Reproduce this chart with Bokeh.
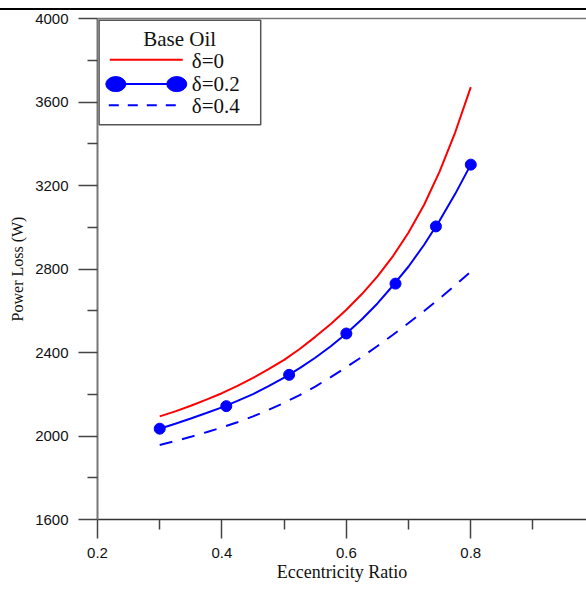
from bokeh.plotting import figure
from bokeh.models import Range1d, FixedTicker, LinearAxis, Div
from bokeh.layouts import column
from bokeh.core.properties import value
from bokeh.embed import file_html
from bokeh.resources import INLINE

# ---- data ----
ecc_grid = [0.300, 0.325, 0.350, 0.375, 0.400, 0.425, 0.450, 0.475, 0.500, 0.525, 0.550,
            0.575, 0.600, 0.625, 0.650, 0.675, 0.700, 0.725, 0.750, 0.775, 0.800]

loss_d0 = [2094, 2118, 2145, 2174, 2205, 2240, 2278, 2320, 2365, 2417, 2475,
           2537, 2605, 2680, 2765, 2862, 2975, 3108, 3268, 3455, 3671]

loss_d02_curve = [2035, 2059, 2084, 2110, 2137, 2168, 2201, 2239, 2280, 2325, 2375,
                  2430, 2491, 2559, 2635, 2721, 2812, 2916, 3032, 3160, 3300]
ecc_d02_pts = [0.300, 0.407, 0.508, 0.600, 0.679, 0.744, 0.800]
loss_d02_pts = [2035, 2143, 2293, 2491, 2730, 3004, 3300]

loss_d04 = [1957, 1976, 1996, 2018, 2041, 2066, 2094, 2125, 2159, 2196, 2237,
            2282, 2330, 2379, 2431, 2485, 2541, 2599, 2659, 2722, 2788]

x_major = [0.2, 0.4, 0.6, 0.8]
x_minor = [0.3, 0.5, 0.7, 0.9]
y_major = [1600, 2000, 2400, 2800, 3200, 3600, 4000]
y_minor = [1800, 2200, 2600, 3000, 3400, 3800]

legend_title = "Base Oil"
legend_labels = ["\u03b4=0", "\u03b4=0.2", "\u03b4=0.4"]

X0, X1 = 0.2, 0.986
Y0, Y1 = 1600, 4000

p = figure(width=586, height=583, x_range=Range1d(X0, X1), y_range=Range1d(Y0, Y1),
           output_backend="svg", toolbar_location=None,
           min_border_left=97, min_border_right=0, min_border_top=8, min_border_bottom=74,
           x_axis_label="Eccentricity Ratio", y_axis_label="Power Loss (W)")
p.grid.visible = False
p.outline_line_color = None
p.background_fill_color = "white"
p.border_fill_color = "white"

p.xaxis.ticker = FixedTicker(ticks=x_major, minor_ticks=x_minor)
p.yaxis.ticker = FixedTicker(ticks=y_major, minor_ticks=y_minor)
for ax in (p.xaxis, p.yaxis):
    ax.major_tick_out = 19
    ax.major_tick_in = 0
    ax.minor_tick_out = 10
    ax.minor_tick_in = 0
    ax.major_tick_line_color = "#444444"
    ax.minor_tick_line_color = "#444444"
    ax.major_tick_line_width = 1.5
    ax.minor_tick_line_width = 1.5
    ax.major_label_text_font = "Liberation Sans"
    ax.major_label_text_font_size = "15px"
    ax.major_label_text_color = "#111111"
    ax.axis_label_text_font = "Liberation Serif"
    ax.axis_label_text_font_style = "normal"
    ax.axis_label_text_color = "#111111"
p.xaxis.axis_line_color = "#333333"
p.xaxis.axis_line_width = 1.5
p.yaxis.axis_line_color = "#777777"
p.yaxis.axis_line_width = 2
p.xaxis.major_label_standoff = 9
p.xaxis.axis_label_standoff = 1
p.xaxis.axis_label_text_font_size = "18px"
p.yaxis.major_label_standoff = 10
p.yaxis.axis_label_standoff = 6
p.yaxis.axis_label_text_font_size = "16px"

top = LinearAxis(ticker=FixedTicker(ticks=[]), axis_line_color="#777777", axis_line_width=1.5,
                 major_tick_out=0, major_tick_in=0, minor_tick_out=0, minor_tick_in=0,
                 major_label_standoff=0)
p.add_layout(top, "above")

# ---- curves ----
p.line(ecc_grid, loss_d0, line_color="#ff0000", line_width=2)
p.line(ecc_grid, loss_d02_curve, line_color="#0000ff", line_width=2)
p.scatter(ecc_d02_pts, loss_d02_pts, marker="circle", size=11, fill_color="#0000ff", line_color="#0000ff")
p.line(ecc_grid, loss_d04, line_color="#0000ff", line_width=2, line_dash="13 10")

# ---- legend drawn in frame pixels (converted to data units) ----
FL, FR, FT, FB = 96.7, 586.0, 17.6, 519.3
def fx(px):
    return X0 + (px - FL) / (FR - FL) * (X1 - X0)
def fy(py):
    return Y0 + (FB - py) / (FB - FT) * (Y1 - Y0)

p.quad(left=[fx(98.3)], right=[fx(260)], top=[fy(19.3)], bottom=[fy(124)],
       fill_color="white", line_color="#555555", line_width=1.5)
p.text(x=[fx(179)], y=[fy(38.5)], text=[legend_title], text_font=value("Liberation Serif"),
       text_font_size="21px", text_align="center", text_baseline="middle", text_color="#111111")
p.line([fx(109), fx(182)], [fy(59)] * 2, line_color="#ff0000", line_width=2)
p.line([fx(115), fx(176)], [fy(83.3)] * 2, line_color="#0000ff", line_width=2)
p.ellipse(x=[fx(115), fx(176)], y=[fy(83.3)] * 2, width=20, height=15,
          width_units="screen", height_units="screen", fill_color="#0000ff", line_color="#0000ff")
p.line([fx(108), fx(182)], [fy(104.5)] * 2, line_color="#0000ff", line_width=2, line_dash="10 9")
p.text(x=[fx(191)] * 3, y=[fy(60), fy(83.5), fy(105.5)], text=legend_labels,
       text_font=value("Liberation Serif"), text_font_size="21px", text_align="left",
       text_baseline="middle", text_color="#111111")

bar = Div(width=586, height=2, styles={"background-color": "black"}, margin=(8, 0, 0, 0))
layout = column(bar, p, spacing=0)

open("out.html", "w").write(file_html(layout, INLINE))
